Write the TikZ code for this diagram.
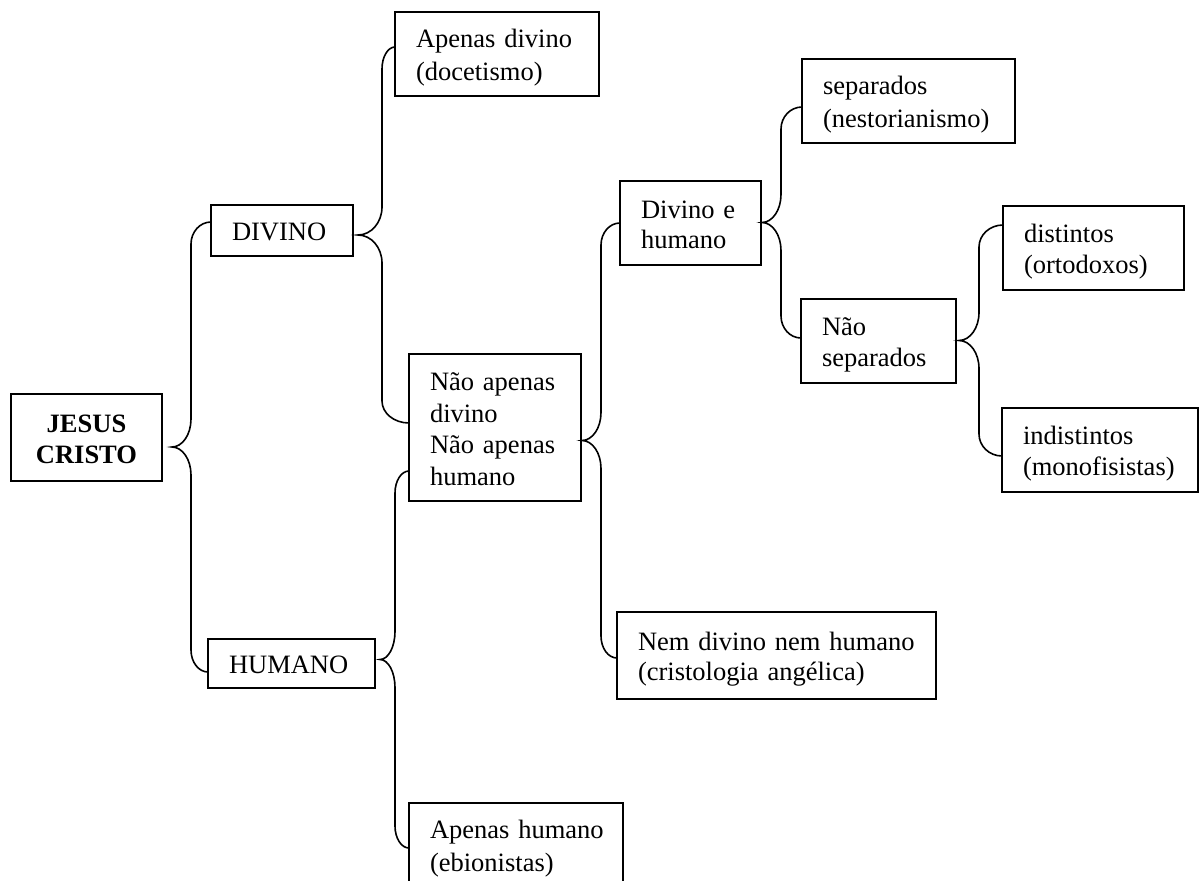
\documentclass[tikz,border=0pt]{standalone}
\usepackage{fontspec}
\setmainfont{Liberation Serif}
\usetikzlibrary{calc}
\newcommand\mystrut{\rule[-5pt]{0pt}{30.5pt}}
% #1 top end, #2 tip, #3 bottom end, #4 horizontal distance tip -> vertical stem
\newcommand\bracedraw[4]{%
  \draw[bracestyle] let \p1=(#1), \p2=(#2), \p3=(#3) in
    (\p1) .. controls ({\x1-0.552*(\x1-\x2-#4)},\y1) and (\x2+#4,{\y1-0.448*22pt}) .. (\x2+#4,\y1-22pt)
    -- (\x2+#4,\y2+28pt)
    .. controls (\x2+#4,{\y2+0.448*28pt}) and ({\x2+0.552*#4},\y2) .. (\p2)
    .. controls ({\x2+0.552*#4},\y2) and (\x2+#4,{\y2-0.448*28pt}) .. (\x2+#4,\y2-28pt)
    -- (\x2+#4,\y3+22pt)
    .. controls (\x2+#4,{\y3+0.448*22pt}) and ({\x3-0.552*(\x3-\x2-#4)},\y3) .. (\p3);}
% #1 id, #2 parent, #3 upper child, #4 y offset, #5 lower child, #6 y offset, #7 tip gap, #8 stem distance
\newcommand\bracecon[8]{%
  \coordinate (#1t) at ($(#3.west)+(0,#4)$);
  \coordinate (#1b) at ($(#5.west)+(0,#6)$);
  \coordinate (#1c) at ($(#1t)!0.5!(#1b)$);
  \coordinate (#1m) at ($(#2.east |- #1c)+(#7,0)$);
  \bracedraw{#1t}{#1m}{#1b}{#8}}
\newcommand\boxline[1]{\mystrut\mbox{#1}}
\begin{document}
\begin{tikzpicture}[x=1pt,y=-1pt,
  box/.style={draw, line width=1.7pt, inner xsep=21pt, inner ysep=0pt, outer sep=0pt,
    anchor=north west, align=left, font=\fontsize{26.5}{30.5}\selectfont},
  bracestyle/.style={draw, line width=1.6pt}]
\useasboundingbox (0,0) rectangle (1200,881);
\clip (0,0) rectangle (1200,881);
\fill[white] (0,0) rectangle (1200,881);

\node[box, align=center, font={\fontsize{26.5}{30.5}\selectfont\bfseries}, text width=109pt, minimum height=87pt] (jc) at (11,394) {\boxline{JESUS}\\\boxline{CRISTO}};
\node[box, text width=100pt, minimum height=51pt] (div) at (211,205) {\boxline{DIVINO}};
\node[box, text width=125pt, minimum height=49pt] (hum) at (208,639) {\boxline{HUMANO}};
\node[box, text width=162pt, minimum height=84pt] (apdiv) at (395,12) {\boxline{Apenas divino}\\\boxline{(docetismo)}};
\node[box, text width=130pt, minimum height=147pt] (naoap) at (409,354) {\boxline{Não apenas}\\\boxline{divino}\\\boxline{Não apenas}\\\boxline{humano}};
\node[box, text width=172pt, minimum height=84pt] (aphum) at (409,803) {\boxline{Apenas humano}\\\boxline{(ebionistas)}};
\node[box, text width=99pt, minimum height=84pt] (deh) at (620,181) {\boxline{Divino e}\\\boxline{humano}};
\node[box, text width=277pt, minimum height=87pt] (nem) at (617,612) {\boxline{Nem divino nem humano}\\\boxline{(cristologia angélica)}};
\node[box, text width=171pt, minimum height=84pt] (sep) at (802,59) {\boxline{separados}\\\boxline{(nestorianismo)}};
\node[box, text width=113pt, minimum height=84pt] (naosep) at (801,299) {\boxline{Não}\\\boxline{separados}};
\node[box, text width=139pt, minimum height=84pt] (dist) at (1003,206) {\boxline{distintos}\\\boxline{(ortodoxos)}};
\node[box, text width=154pt, minimum height=84pt] (indist) at (1002,408) {\boxline{indistintos}\\\boxline{(monofisistas)}};

\bracecon{ba}{jc}{div}{-8.5}{hum}{8.5}{10}{19pt}
\bracecon{bb}{div}{apdiv}{-7}{naoap}{-4.5}{5}{24pt}
\bracecon{bc}{hum}{naoap}{43.5}{aphum}{3}{5}{15pt}
\bracecon{bd}{naoap}{deh}{0}{nem}{2.5}{1}{19pt}
\bracecon{be}{deh}{sep}{6}{naosep}{-3}{1}{19pt}
\bracecon{bf}{naosep}{dist}{-23}{indist}{6}{3}{20pt}
\end{tikzpicture}
\end{document}
